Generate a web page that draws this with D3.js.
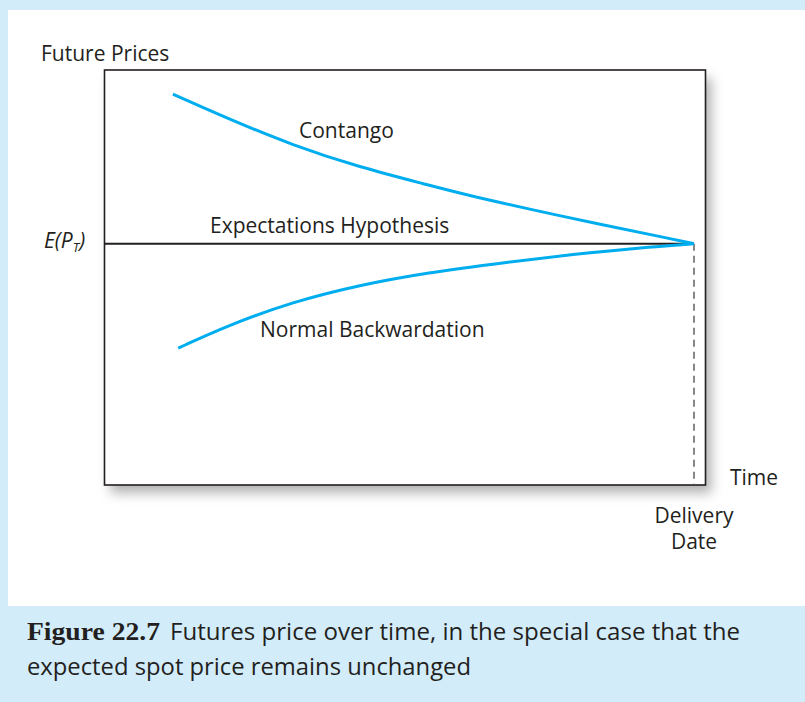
<!DOCTYPE html>
<html>
<head>
<meta charset="utf-8">
<script src="https://cdn.jsdelivr.net/npm/d3@7"></script>
<style>
  html, body { margin: 0; padding: 0; background: #d3ecfa; }
  svg { display: block; }
</style>
</head>
<body>
<svg id="chart" width="805" height="702"></svg>
<script>
// ---- Data (time index 0..100 = delivery date; price units, E(P_T) = 100) ----
const expectedSpot = 100;
const deliveryTime = 100;
const contangoTime  = [11.6, 20.7, 32.0, 43.3, 54.7, 61.4, 72.7, 84.1, 95.4, 100];
const contangoPrice = [162.0, 152.1, 140.7, 131.7, 124.5, 120.2, 114.0, 108.0, 102.4, 100];
const backwardTime  = [12.5, 20.7, 32.0, 43.3, 54.7, 68.2, 79.5, 90.8, 100];
const backwardPrice = [56.7, 65.9, 76.0, 82.9, 88.0, 92.3, 95.6, 98.35, 100];
const curveLabels = ["Contango", "Expectations Hypothesis", "Normal Backwardation"];
const axisLabels = ["Future Prices", "Time", "Delivery", "Date"];
const captionBold = "Figure 22.7";
const captionLine1 = "Futures price over time, in the special case that the";
const captionLine2 = "expected spot price remains unchanged";

const SANS = "'Open Sans', 'Noto Sans', sans-serif";
const SERIF = "'Liberation Serif', 'DejaVu Serif', serif";
const INK = "#231f20";

const svg = d3.select("#chart");
const W = 805, H = 702;

// background panels
svg.append("rect").attr("x", 0).attr("y", 0).attr("width", W).attr("height", H).attr("fill", "#d3ecfa");
svg.append("rect").attr("x", 8).attr("y", 10).attr("width", W - 8).attr("height", 596).attr("fill", "#ffffff");

const defs = svg.append("defs");
const f = defs.append("filter").attr("id", "shadow").attr("x", "-10%").attr("y", "-10%").attr("width", "130%").attr("height", "130%");
f.append("feDropShadow").attr("dx", 6).attr("dy", 8).attr("stdDeviation", 6)
  .attr("flood-color", "#000").attr("flood-opacity", 0.3);

// scales
const x = d3.scaleLinear().domain([0, deliveryTime]).range([104.5, 694]);
const y = d3.scaleLinear().domain([0, 172]).range([485, 70]);
const xMax = 101.95;

// plot box
svg.append("rect")
  .attr("x", x(0)).attr("y", y(172))
  .attr("width", x(xMax) - x(0)).attr("height", y(0) - y(172))
  .attr("fill", "#fff").attr("filter", "url(#shadow)");
svg.append("rect")
  .attr("x", x(0)).attr("y", y(172))
  .attr("width", x(xMax) - x(0)).attr("height", y(0) - y(172))
  .attr("fill", "none").attr("stroke", INK).attr("stroke-width", 1.6);

// dashed delivery line
svg.append("line")
  .attr("x1", x(deliveryTime)).attr("x2", x(deliveryTime))
  .attr("y1", y(expectedSpot)).attr("y2", y(0))
  .attr("stroke", "#555").attr("stroke-width", 1.4).attr("stroke-dasharray", "7,5");

// expectation line
svg.append("line")
  .attr("x1", x(0)).attr("x2", x(deliveryTime))
  .attr("y1", y(expectedSpot)).attr("y2", y(expectedSpot))
  .attr("stroke", INK).attr("stroke-width", 2);

const line = d3.line().x(d => x(d[0])).y(d => y(d[1])).curve(d3.curveBasis);
const contango = contangoTime.map((t, i) => [t, contangoPrice[i]]);
const backward = backwardTime.map((t, i) => [t, backwardPrice[i]]);
[contango, backward].forEach(data => {
  svg.append("path").datum(data).attr("d", line)
    .attr("fill", "none").attr("stroke", "#00aeef").attr("stroke-width", 3)
    .attr("stroke-linecap", "butt");
});

// labels
const fs = 21;
function label(tx, ty, s, anchor) {
  return svg.append("text").attr("x", tx).attr("y", ty)
    .style("font-family", SANS).style("font-size", fs + "px").attr("fill", INK)
    .attr("text-anchor", anchor || "start").text(s);
}
label(41, 61, axisLabels[0]);
label(299, 138, curveLabels[0]);
label(210, 233, curveLabels[1]);
label(260, 337, curveLabels[2]);
label(730, 485, axisLabels[1]);
label(694, 523, axisLabels[2], "middle");
label(694, 549, axisLabels[3], "middle");

// E(P_T)
const e = svg.append("text").attr("x", 44).attr("y", 248)
  .style("font-family", SANS).style("font-size", fs + "px").style("font-style", "italic").attr("fill", INK);
e.append("tspan").text("E(P");
e.append("tspan").style("font-size", "13px").attr("dy", 4).text("T");
e.append("tspan").attr("dy", -4).text(")");

// caption
svg.append("text").attr("x", 27).attr("y", 640)
  .style("font-family", SERIF).style("font-weight", "bold").style("font-size", "25px")
  .attr("fill", INK)
  .attr("textLength", 133).attr("lengthAdjust", "spacingAndGlyphs")
  .text(captionBold);
svg.append("text").attr("x", 170).attr("y", 640)
  .style("font-family", SANS).style("font-size", "23.5px").attr("fill", INK)
  .attr("textLength", 570).attr("lengthAdjust", "spacingAndGlyphs")
  .text(captionLine1);
svg.append("text").attr("x", 27).attr("y", 675)
  .style("font-family", SANS).style("font-size", "23.5px").attr("fill", INK)
  .attr("textLength", 444).attr("lengthAdjust", "spacingAndGlyphs")
  .text(captionLine2);
</script>
</body>
</html>
